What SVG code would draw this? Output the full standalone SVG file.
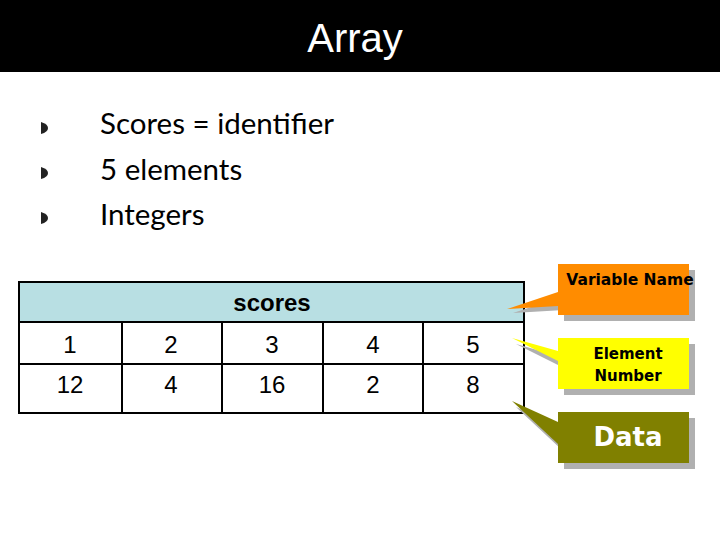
<svg xmlns="http://www.w3.org/2000/svg" width="720" height="540" viewBox="0 0 720 540">
<style>
.b{font-family:Lato,"Open Sans",sans-serif;font-size:29.5px;fill:#000}
.n{font-family:"Liberation Sans",Arial,sans-serif;font-size:24px;fill:#000;text-anchor:middle}
.c{font-family:"Liberation Sans",Arial,sans-serif;font-weight:bold;text-anchor:middle}
.k{font-family:"DejaVu Sans",sans-serif;font-weight:bold;text-anchor:middle}
.sh{fill:#b0b0b0}
.grid{stroke:#000;stroke-width:2;fill:none}
</style>
<rect x="0" y="0" width="720" height="540" fill="#fff"/>
<g id="title">
<rect x="0" y="0" width="720" height="72" fill="#000"/>
<text x="355" y="52" font-family="Liberation Sans,Arial,sans-serif" font-size="40" fill="#fff" text-anchor="middle">Array</text>
</g>
<g id="bullets">
<path d="M41 122 Q48 124 48 128 Q48 132 41 134 Z" fill="#222"/>
<path d="M41 167 Q48 169 48 173 Q48 177 41 179 Z" fill="#222"/>
<path d="M41 212 Q48 214 48 218 Q48 222 41 224 Z" fill="#222"/>
<text class="b" x="100" y="134">Scores = identifier</text>
<text class="b" x="100" y="180">5 elements</text>
<text class="b" x="100" y="225">Integers</text>
</g>
<g id="table">
<rect x="19" y="282" width="505" height="40" fill="#b8dfe3"/>
<rect x="19" y="282" width="505" height="131" class="grid" stroke-width="3"/>
<line x1="19" y1="322" x2="524" y2="322" class="grid"/>
<line x1="19" y1="364" x2="524" y2="364" class="grid"/>
<line x1="122" y1="322" x2="122" y2="413" class="grid"/>
<line x1="222" y1="322" x2="222" y2="413" class="grid"/>
<line x1="323" y1="322" x2="323" y2="413" class="grid"/>
<line x1="423" y1="322" x2="423" y2="413" class="grid"/>
<text class="c" x="272" y="311" font-size="24">scores</text>
<text class="n" x="70" y="353">1</text>
<text class="n" x="171" y="353">2</text>
<text class="n" x="272" y="353">3</text>
<text class="n" x="373" y="353">4</text>
<text class="n" x="473" y="353">5</text>
<text class="n" x="70" y="393">12</text>
<text class="n" x="171" y="393">4</text>
<text class="n" x="272" y="393">16</text>
<text class="n" x="373" y="393">2</text>
<text class="n" x="473" y="393">8</text>
</g>
<g id="connectors">
<polygon points="558,292 507,309 558,306" class="sh" transform="translate(6,4)"/>
<polygon points="558,292 507,309 558,306" fill="#ff8c00"/>
<polygon points="558,351 512,338 558,361" class="sh" transform="translate(4,6)"/>
<polygon points="558,351 512,338 558,361" fill="#ffff00"/>
<polygon points="558,422 512,401 558,444" class="sh" transform="translate(4,6)"/>
<polygon points="558,422 512,401 558,444" fill="#808000"/>
</g>
<g id="varname">
<rect x="564" y="270" width="131" height="51" class="sh"/>
<rect x="558" y="264" width="131" height="51" fill="#ff8c00"/>
<text class="k" x="630" y="285" font-size="15.5" fill="#000">Variable Name</text>
</g>
<g id="element">
<rect x="564" y="344" width="131" height="51" class="sh"/>
<rect x="558" y="338" width="131" height="51" fill="#ffff00"/>
<text class="k" x="628" y="359" font-size="15" fill="#000">Element</text>
<text class="k" x="628" y="381" font-size="15" fill="#000">Number</text>
</g>
<g id="data">
<rect x="564" y="418" width="131" height="51" class="sh"/>
<rect x="558" y="412" width="131" height="51" fill="#808000"/>
<text class="k" x="628" y="446" font-size="26" fill="#fff">Data</text>
</g>
</svg>
